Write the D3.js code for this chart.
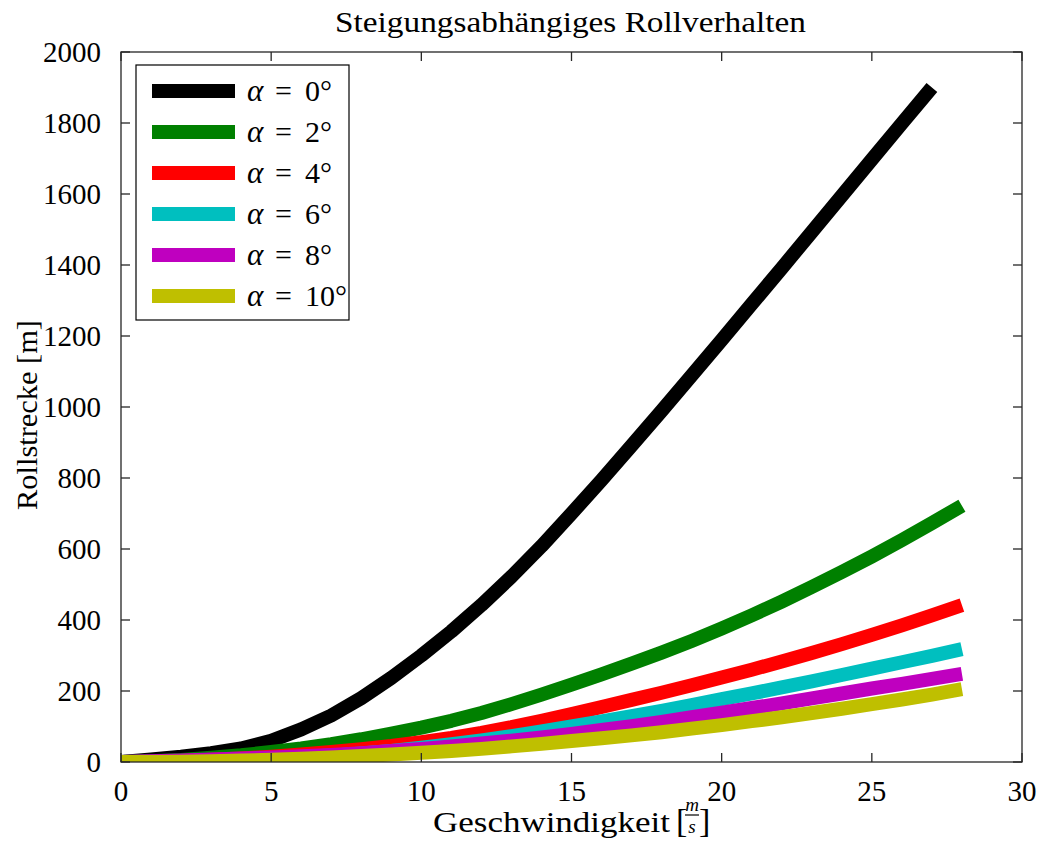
<!DOCTYPE html>
<html><head><meta charset="utf-8">
<script src="https://cdn.jsdelivr.net/npm/d3@7"></script>
<style>body{margin:0;background:#fff}svg text{font-family:"Liberation Serif","DejaVu Serif",serif;fill:#000}</style>
</head><body><svg id="c" width="1041" height="844"></svg>
<script>
const title = "Steigungsabhängiges Rollverhalten";
const xTicks = [0,5,10,15,20,25,30];
const yTicks = [0,200,400,600,800,1000,1200,1400,1600,1800,2000];
const seriesNames = ["0°","2°","4°","6°","8°","10°"];
const seriesColors = ["#000000","#008000","#ff0000","#00bfbf","#bf00bf","#bfbf00"];
const speeds0 = d3.range(0,28);
const speeds = d3.range(0,29);
const alpha0 = [0,7,15,25,38,60,92,131,180,237,300,368,442,522,608,700,794,891,989,1089,1189,1290,1391,1493,1595,1697,1799,1900];
const alpha2 = [0,2,6,12,19,28,38,50,64,80,97,116,138,163,190,218,247,277,308,341,376,413,452,493,535,579,625,673,722];
const alpha4 = [0,1,3,6,10,15,21,28,36,45,56,68,82,98,116,135,155,175,195,216,238,260,283,307,332,358,385,413,442];
const alpha6 = [0,1,2,4,7,10,14,18,24,31,40,50,61,73,86,100,114,129,144,160,177,193,210,227,245,263,281,299,318];
const alpha8 = [0,2,4,7,10,13,16,20,25,31,37,44,52,60,69,79,90,101,113,126,139,152,165,179,193,207,220,234,248];
const alpha10 = [0,0.3,1,2.3,4,6.5,9.4,12.7,16.6,21,26,31,37,44,51,59,67,75,84,94,104,115,126,138,150,163,176,190,205];
const seriesData = [alpha0,alpha2,alpha4,alpha6,alpha8,alpha10];
const seriesX = [speeds0,speeds,speeds,speeds,speeds,speeds];

const svg = d3.select("#c");
const L=121,R=1022,T=52,B=762;
const x = d3.scaleLinear().domain([0,30]).range([L,R]);
const y = d3.scaleLinear().domain([0,2000]).range([B,T]);

svg.append("clipPath").attr("id","clip").append("rect").attr("x",L).attr("y",T).attr("width",R-L).attr("height",B-T);

const line = d3.line().x(d=>x(d[0])).y(d=>y(d[1]));
const g = svg.append("g").attr("clip-path","url(#clip)");
seriesData.forEach((vals,i)=>{
  g.append("path").datum(vals.map((v,j)=>[seriesX[i][j],v]))
   .attr("d",line).attr("fill","none").attr("stroke",seriesColors[i])
   .attr("stroke-width",14).attr("stroke-linejoin","round").attr("stroke-linecap","butt");
});

const ax = svg.append("g").attr("stroke","#262626").attr("stroke-width",1.3);
ax.append("rect").attr("x",L).attr("y",T).attr("width",R-L).attr("height",B-T).attr("fill","none");
const tl=9;
xTicks.forEach(t=>{
  ax.append("line").attr("x1",x(t)).attr("x2",x(t)).attr("y1",B).attr("y2",B-tl);
  ax.append("line").attr("x1",x(t)).attr("x2",x(t)).attr("y1",T).attr("y2",T+tl);
  svg.append("text").attr("x",x(t)).attr("y",801).attr("text-anchor","middle").attr("font-size",29).text(t);
});
yTicks.forEach(t=>{
  ax.append("line").attr("x1",L).attr("x2",L+tl).attr("y1",y(t)).attr("y2",y(t));
  ax.append("line").attr("x1",R).attr("x2",R-tl).attr("y1",y(t)).attr("y2",y(t));
  svg.append("text").attr("x",101).attr("y",y(t)+10).attr("text-anchor","end").attr("font-size",29).text(t);
});

svg.append("text").attr("x",335).attr("y",32).attr("font-size",29)
  .attr("textLength",471).attr("lengthAdjust","spacingAndGlyphs").text(title);
svg.append("text").attr("transform","translate(37,510) rotate(-90)").attr("font-size",30)
  .attr("textLength",190).attr("lengthAdjust","spacingAndGlyphs").text("Rollstrecke [m]");

const xl = svg.append("g");
xl.append("text").attr("x",433).attr("y",832).attr("font-size",30).attr("textLength",237).attr("lengthAdjust","spacingAndGlyphs").text("Geschwindigkeit");
xl.append("text").attr("x",676).attr("y",832).attr("font-size",34).text("[");
xl.append("text").attr("x",692).attr("y",811).attr("text-anchor","middle").attr("font-size",19).attr("font-style","italic").text("m");
xl.append("line").attr("x1",685).attr("x2",699).attr("y1",815).attr("y2",815).attr("stroke","#000").attr("stroke-width",1.2);
xl.append("text").attr("x",692).attr("y",833).attr("text-anchor","middle").attr("font-size",19).attr("font-style","italic").text("s");
xl.append("text").attr("x",699).attr("y",832).attr("font-size",34).text("]");

const lg = svg.append("g");
lg.append("rect").attr("x",136).attr("y",65).attr("width",213).attr("height",255).attr("fill","#fff").attr("stroke","#000").attr("stroke-width",1.2);
seriesNames.forEach((n,i)=>{
  const yy = 91 + i*41;
  lg.append("line").attr("x1",152).attr("x2",235).attr("y1",yy).attr("y2",yy).attr("stroke",seriesColors[i]).attr("stroke-width",14);
  lg.append("text").attr("x",247).attr("y",yy+10).attr("font-size",31).attr("font-style","italic").text("α");
  lg.append("text").attr("x",275).attr("y",yy+10).attr("font-size",30).text("=");
  lg.append("text").attr("x",305).attr("y",yy+10).attr("font-size",30).text(n);
});
</script></body></html>
